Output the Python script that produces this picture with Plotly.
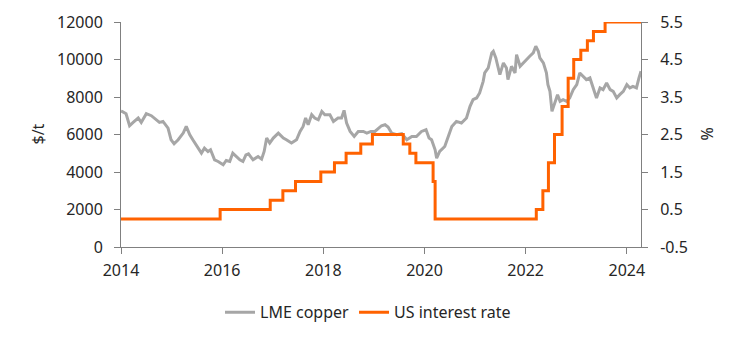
import plotly.graph_objects as go

# LME copper, $/t (decimal year, value)
copper_t = [2014.00, 2014.02, 2014.10, 2014.17, 2014.24, 2014.34, 2014.40, 2014.50, 2014.60, 2014.70,
            2014.76, 2014.83, 2014.93, 2014.99, 2015.05, 2015.13, 2015.23, 2015.29, 2015.36, 2015.42,
            2015.52, 2015.59, 2015.65, 2015.72, 2015.77, 2015.85, 2015.92, 2016.02, 2016.08, 2016.15,
            2016.21, 2016.28, 2016.35, 2016.41, 2016.47, 2016.52, 2016.61, 2016.71, 2016.78, 2016.83,
            2016.88, 2016.94, 2017.01, 2017.11, 2017.21, 2017.27, 2017.37, 2017.47, 2017.54, 2017.60,
            2017.65, 2017.70, 2017.77, 2017.83, 2017.90, 2017.97, 2018.03, 2018.13, 2018.20, 2018.29,
            2018.36, 2018.41, 2018.46, 2018.53, 2018.61, 2018.69, 2018.79, 2018.86, 2018.94, 2019.02,
            2019.09, 2019.15, 2019.22, 2019.28, 2019.35, 2019.45, 2019.55, 2019.65, 2019.75, 2019.84,
            2019.94, 2020.03, 2020.09, 2020.14, 2020.21, 2020.24, 2020.30, 2020.40, 2020.47, 2020.54,
            2020.63, 2020.73, 2020.83, 2020.90, 2020.96, 2021.03, 2021.09, 2021.16, 2021.19, 2021.26,
            2021.33, 2021.36, 2021.41, 2021.46, 2021.49, 2021.56, 2021.62, 2021.65, 2021.72, 2021.79,
            2021.82, 2021.89, 2021.95, 2022.02, 2022.08, 2022.15, 2022.20, 2022.25, 2022.28, 2022.35,
            2022.41, 2022.44, 2022.48, 2022.52, 2022.58, 2022.63, 2022.68, 2022.74, 2022.81, 2022.87,
            2022.94, 2023.01, 2023.07, 2023.14, 2023.20, 2023.27, 2023.33, 2023.40, 2023.47, 2023.53,
            2023.60, 2023.67, 2023.73, 2023.80, 2023.86, 2023.93, 2024.00, 2024.06, 2024.12, 2024.19,
            2024.24, 2024.28]
copper_v = [7250, 7232, 7109, 6467, 6644, 6879, 6644, 7109, 7002, 6788,
            6644, 6697, 6344, 5719, 5505, 5719, 6077, 6430, 5986, 5719,
            5274, 5008, 5274, 5094, 5185, 4650, 4560, 4383, 4613, 4560,
            5008, 4827, 4650, 4560, 4917, 4971, 4650, 4827, 4688, 5094,
            5810, 5543, 5810, 6077, 5810, 5719, 5543, 5719, 6163, 6430,
            6879, 6521, 7055, 6879, 6788, 7232, 7055, 7055, 6697, 6879,
            6879, 7285, 6612, 6163, 5896, 6163, 6163, 6077, 6163, 6163,
            6344, 6467, 6521, 6398, 6077, 5986, 6040, 5719, 5896, 5896,
            6163, 6254, 5810, 5719, 5185, 4741, 5094, 5361, 5896, 6430,
            6697, 6612, 6879, 7499, 7857, 7948, 8215, 8835, 9284, 9551,
            10353, 10439, 10086, 9500, 9193, 9818, 9551, 8926, 9637, 9284,
            10262, 9637, 9818, 9995, 10171, 10353, 10706, 10439, 10086, 9818,
            9284, 8659, 8301, 7232, 7766, 8124, 7766, 7857, 7766, 7948,
            8392, 8659, 9284, 9103, 8926, 9017, 8483, 7948, 8483, 8392,
            8750, 8392, 8301, 7948, 8124, 8301, 8659, 8483, 8568, 8483,
            9017, 9370]

# US interest rate (Fed funds upper bound), % — change dates as decimal years
rate_t = [2014.00, 2015.96, 2016.95, 2017.20, 2017.45, 2017.95, 2018.22, 2018.45, 2018.74, 2018.97,
          2019.58, 2019.71, 2019.83, 2020.17, 2020.21, 2022.21, 2022.34, 2022.45, 2022.57, 2022.72,
          2022.84, 2022.95, 2023.09, 2023.22, 2023.34, 2023.57, 2024.28]
rate_v = [0.25, 0.50, 0.75, 1.00, 1.25, 1.50, 1.75, 2.00, 2.25, 2.50,
          2.25, 2.00, 1.75, 1.25, 0.25, 0.50, 1.00, 1.75, 2.50, 3.25,
          4.00, 4.50, 4.75, 5.00, 5.25, 5.50, 5.50]

x_ticks = [2014, 2016, 2018, 2020, 2022, 2024]
left_ticks = [0, 2000, 4000, 6000, 8000, 10000, 12000]
right_ticks = [-0.5, 0.5, 1.5, 2.5, 3.5, 4.5, 5.5]

FONT = "Noto Sans"
TXT = "#262626"
AX = "#808080"

fig = go.Figure()
fig.add_trace(go.Scatter(x=copper_t, y=copper_v, mode="lines", name="LME copper",
                         line=dict(color="#A6A6A6", width=3), yaxis="y"))
fig.add_trace(go.Scatter(x=rate_t, y=rate_v, mode="lines", name="US interest rate",
                         line=dict(color="#FF6200", width=3, shape="hv"), yaxis="y2"))

fig.update_layout(
    width=744, height=343,
    margin=dict(l=121, r=103, t=22, b=96),
    paper_bgcolor="white", plot_bgcolor="white",
    font=dict(family=FONT, size=16, color=TXT),
    showlegend=True,
    legend=dict(orientation="h", x=0.475, xanchor="center", y=-0.29, yanchor="middle",
                font=dict(size=16, color=TXT), bgcolor="rgba(0,0,0,0)"),
    xaxis=dict(range=[2014, 2024.28], tickvals=x_ticks, ticktext=[str(t) for t in x_ticks],
               showgrid=False, zeroline=False, showline=True, linecolor=AX, linewidth=1,
               ticks="outside", ticklen=6, tickcolor=AX, ticklabelstandoff=3,
               tickfont=dict(size=16, color=TXT)),
    yaxis=dict(range=[0, 12000], tickvals=left_ticks, ticktext=[str(t) for t in left_ticks],
               showgrid=False, zeroline=False,
               showline=True, linecolor=AX, linewidth=1, ticks="outside", ticklen=6, tickcolor=AX,
               ticklabelstandoff=8, tickfont=dict(size=16, color=TXT)),
    yaxis2=dict(range=[-0.5, 5.5], tickvals=right_ticks, ticktext=[f"{v:.1f}" for v in right_ticks],
                overlaying="y", side="right", anchor="x", showgrid=False, zeroline=False,
                showline=True, linecolor=AX, linewidth=1, ticks="outside", ticklen=6, tickcolor=AX,
                ticklabelstandoff=9, tickfont=dict(size=16, color=TXT)),
    annotations=[
        dict(text="$/t", xref="paper", yref="paper", x=-0.1615, y=0.5, showarrow=False,
             textangle=-90, font=dict(size=16, color=TXT), xanchor="center", yanchor="middle"),
        dict(text="%", xref="paper", yref="paper", x=1.125, y=0.5, showarrow=False,
             textangle=-90, font=dict(size=16, color=TXT), xanchor="center", yanchor="middle"),
    ],
)

fig.write_html("out.html")
